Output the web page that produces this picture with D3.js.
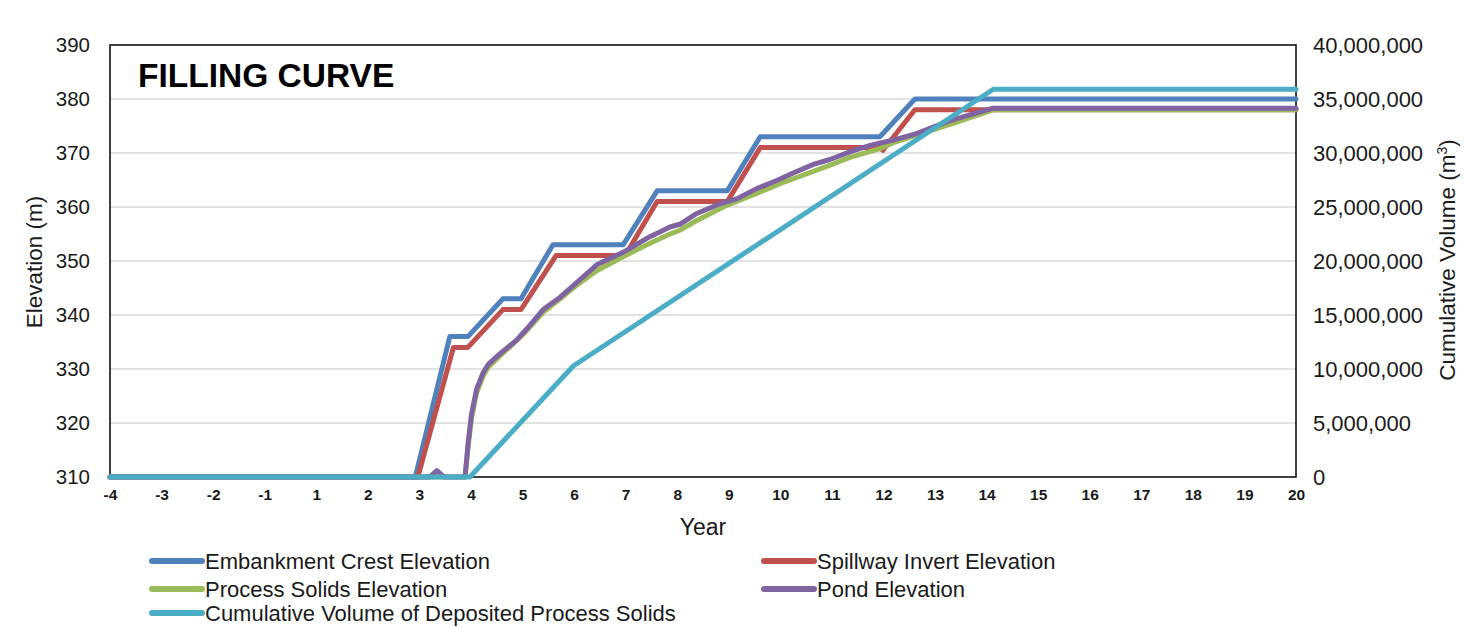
<!DOCTYPE html>
<html>
<head>
<meta charset="utf-8">
<script src="https://cdn.jsdelivr.net/npm/d3@7"></script>
<style>
  html, body { margin: 0; padding: 0; background: #fff; }
  svg { display: block; font-family: "Liberation Sans", Arial, sans-serif; }
</style>
</head>
<body>
<svg id="chart" width="1472" height="628"></svg>
<script>
// Category ticks on the year axis (there is no year 0)
const yearTicks = [-4, -3, -2, -1, 1, 2, 3, 4, 5, 6, 7, 8, 9, 10, 11, 12, 13, 14, 15, 16, 17, 18, 19, 20];
const elevTicks = [310, 320, 330, 340, 350, 360, 370, 380, 390];
const volTicks = [0, 5e6, 10e6, 15e6, 20e6, 25e6, 30e6, 35e6, 40e6];

// Embankment crest elevation (m)
const crestYears = [-4, 2.92, 3.59, 3.94, 4.62, 4.97, 5.59, 6.95, 7.61, 8.97, 9.61, 11.93, 12.61, 20];
const crestElev  = [310, 310, 336, 336, 343, 343, 353, 353, 363, 363, 373, 373, 380, 380];

// Spillway invert elevation (m)
const spillYears = [-4, 2.97, 3.66, 3.94, 4.62, 4.97, 5.65, 6.99, 7.61, 8.97, 9.61, 11.93, 11.99, 12.61, 20];
const spillElev  = [310, 310, 334, 334, 341, 341, 351, 351, 361, 361, 371, 371, 370.5, 378, 378];

// Process solids elevation (m)
const solidsYears = [-4, 3.885, 3.95, 4.01, 4.11, 4.24, 4.34, 4.56, 4.89, 5.08, 5.40, 5.73, 6.05, 6.44, 6.95, 7.41, 7.86, 8.05, 8.38, 8.96, 9.54, 9.99, 10.64, 11.03, 11.35, 11.93, 12.19, 12.84, 13.29, 14.13, 20];
const solidsElev  = [310, 310, 316, 320.8, 325.6, 328.8, 330.4, 332.4, 335.3, 337.1, 340.5, 343.0, 345.5, 348.2, 350.8, 353.0, 355.0, 355.7, 357.5, 360.3, 362.5, 364.3, 366.6, 368.0, 369.2, 370.8, 371.9, 373.9, 375.3, 378.0, 378.0];

// Pond elevation (m)
const pondYears = [-4, 3.20, 3.34, 3.48, 3.885, 3.95, 4.01, 4.11, 4.24, 4.34, 4.56, 4.89, 5.08, 5.40, 5.73, 6.05, 6.44, 6.95, 7.41, 7.86, 8.05, 8.38, 8.83, 9.15, 9.54, 9.93, 10.25, 10.64, 10.96, 11.35, 11.74, 12.19, 12.64, 13.29, 14.13, 20];
const pondElev  = [310, 310, 311.2, 310, 310, 316.7, 321.6, 326.3, 329.4, 330.9, 332.8, 335.4, 337.4, 341.0, 343.3, 346.0, 349.3, 351.6, 354.2, 356.3, 356.8, 358.8, 360.6, 361.5, 363.4, 364.9, 366.3, 367.9, 368.8, 370.2, 371.4, 372.4, 373.6, 376.0, 378.3, 378.3];

// Cumulative volume of deposited process solids (m3)
const volYears = [-4, 3.98, 5.99, 14.13, 20];
const volValues = [0, 0, 10.3e6, 35.9e6, 35.9e6];

const legendLabels = [
  "Embankment Crest Elevation", "Spillway Invert Elevation",
  "Process Solids Elevation", "Pond Elevation",
  "Cumulative Volume of Deposited Process Solids"
];
const colors = ["#4F81BD", "#C0504D", "#9BBB59", "#8064A2", "#4BACC6"];

const svg = d3.select("#chart");
const plot = { left: 110, right: 1296, top: 45, bottom: 477 };

// year -> position along the category axis
function yearIndex(y) {
  return y < 0 ? y - yearTicks[0] : y - yearTicks[0] - 1;
}
const x = d3.scaleLinear().domain([0, yearTicks.length - 1]).range([plot.left, plot.right]);
const yElev = d3.scaleLinear().domain([310, 390]).range([plot.bottom, plot.top]);
const yVol = d3.scaleLinear().domain([0, 40e6]).range([plot.bottom, plot.top]);

// gridlines
svg.append("g")
  .selectAll("line")
  .data(elevTicks.slice(1, -1))
  .join("line")
  .attr("x1", plot.left).attr("x2", plot.right)
  .attr("y1", d => yElev(d)).attr("y2", d => yElev(d))
  .attr("stroke", "#d9d9d9").attr("stroke-width", 1.5);

// left axis
const leftAxis = d3.axisLeft(yElev).tickValues(elevTicks).tickSize(0).tickPadding(20);
svg.append("g")
  .attr("transform", `translate(${plot.left},0)`)
  .call(leftAxis)
  .call(g => g.select(".domain").remove())
  .selectAll("text")
  .attr("font-size", 20.5).attr("fill", "#1a1a1a")
  .attr("font-family", "'Liberation Sans', Arial, sans-serif");

// right axis
const rightAxis = d3.axisRight(yVol).tickValues(volTicks).tickSize(0).tickPadding(17)
  .tickFormat(d3.format(","));
svg.append("g")
  .attr("transform", `translate(${plot.right},0)`)
  .call(rightAxis)
  .call(g => g.select(".domain").remove())
  .selectAll("text")
  .attr("font-size", 22).attr("fill", "#1a1a1a")
  .attr("font-family", "'Liberation Sans', Arial, sans-serif");

// bottom axis
const bottomAxis = d3.axisBottom(x)
  .tickValues(d3.range(yearTicks.length))
  .tickFormat(i => yearTicks[i])
  .tickSize(0).tickPadding(12);
svg.append("g")
  .attr("transform", `translate(0,${plot.bottom})`)
  .call(bottomAxis)
  .call(g => g.select(".domain").remove())
  .selectAll("text")
  .attr("font-size", 15.5).attr("font-weight", "bold").attr("fill", "#1a1a1a")
  .attr("font-family", "'Liberation Sans', Arial, sans-serif");

// plot frame
svg.append("rect")
  .attr("x", plot.left).attr("y", plot.top)
  .attr("width", plot.right - plot.left).attr("height", plot.bottom - plot.top)
  .attr("fill", "none").attr("stroke", "#111").attr("stroke-width", 1.6);

// series
const elevLine = d3.line().x(d => x(yearIndex(d[0]))).y(d => yElev(d[1]));
const volLine = d3.line().x(d => x(yearIndex(d[0]))).y(d => yVol(d[1]));

const series = [
  { pts: d3.zip(crestYears, crestElev), line: elevLine, color: colors[0] },
  { pts: d3.zip(spillYears, spillElev), line: elevLine, color: colors[1] },
  { pts: d3.zip(solidsYears, solidsElev), line: elevLine, color: colors[2] },
  { pts: d3.zip(pondYears, pondElev), line: elevLine, color: colors[3] },
  { pts: d3.zip(volYears, volValues), line: volLine, color: colors[4] }
];
svg.append("g")
  .selectAll("path")
  .data(series)
  .join("path")
  .attr("d", s => s.line(s.pts))
  .attr("fill", "none")
  .attr("stroke", s => s.color)
  .attr("stroke-width", 5)
  .attr("stroke-linejoin", "round")
  .attr("stroke-linecap", "round");

// chart title
svg.append("text")
  .attr("x", 138).attr("y", 87)
  .attr("font-size", 33.5).attr("font-weight", "bold").attr("fill", "#000")
  .text("FILLING CURVE");

// axis titles
svg.append("text")
  .attr("transform", "translate(42,262) rotate(-90)")
  .attr("text-anchor", "middle")
  .attr("font-size", 22.5).attr("fill", "#1a1a1a")
  .text("Elevation (m)");

const rt = svg.append("text")
  .attr("transform", "translate(1455,260) rotate(-90)")
  .attr("text-anchor", "middle")
  .attr("font-size", 22.5).attr("fill", "#1a1a1a");
rt.append("tspan").text("Cumulative Volume (m");
rt.append("tspan").attr("font-size", 14).attr("dy", -8).text("3");
rt.append("tspan").attr("dy", 8).text(")");

svg.append("text")
  .attr("x", 703).attr("y", 535)
  .attr("text-anchor", "middle")
  .attr("font-size", 23).attr("fill", "#1a1a1a")
  .text("Year");

// legend
const legendPos = [
  { x: 150, y: 561 }, { x: 762, y: 561 },
  { x: 150, y: 589 }, { x: 762, y: 589 },
  { x: 150, y: 613 }
];
const legend = svg.append("g")
  .selectAll("g")
  .data(legendLabels)
  .join("g")
  .attr("transform", (d, i) => `translate(${legendPos[i].x},${legendPos[i].y})`);
legend.append("line")
  .attr("x1", 2).attr("x2", 52).attr("y1", 0).attr("y2", 0)
  .attr("stroke", (d, i) => colors[i])
  .attr("stroke-width", 6).attr("stroke-linecap", "round");
legend.append("text")
  .attr("x", 55).attr("dy", "0.35em")
  .attr("font-size", 22).attr("fill", "#1a1a1a")
  .text(d => d);
</script>
</body>
</html>
